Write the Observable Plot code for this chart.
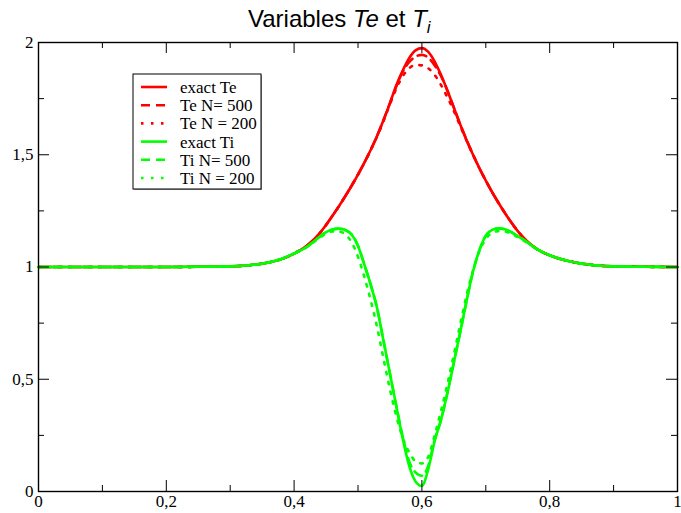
<!DOCTYPE html>
<html><head><meta charset="utf-8">
<script src="https://cdn.jsdelivr.net/npm/d3@7"></script>
<script src="https://cdn.jsdelivr.net/npm/@observablehq/plot@0.6"></script>
<style>body{margin:0;background:#fff} svg{display:block}</style>
</head><body><div id="chart"></div>
<script>
// x grid shared by every series
const xs = [0, 0.1, 0.2, 0.25, 0.3, 0.33, 0.36, 0.38, 0.40, 0.42, 0.44, 0.45, 0.46, 0.47, 0.48, 0.49, 0.50, 0.51, 0.52, 0.53, 0.54, 0.55, 0.56, 0.57, 0.58, 0.59, 0.60, 0.61, 0.62, 0.63, 0.64, 0.65, 0.66, 0.67, 0.68, 0.69, 0.70, 0.71, 0.72, 0.73, 0.74, 0.75, 0.76, 0.78, 0.80, 0.82, 0.84, 0.87, 0.90, 0.95, 1.0];

const teExact = [1, 1, 1, 1.001, 1.003, 1.008, 1.02, 1.035, 1.06, 1.095, 1.15, 1.187, 1.228, 1.27, 1.315, 1.362, 1.412, 1.465, 1.522, 1.585, 1.655, 1.73, 1.81, 1.875, 1.93, 1.965, 1.975, 1.958, 1.915, 1.855, 1.785, 1.71, 1.635, 1.565, 1.50, 1.44, 1.385, 1.333, 1.285, 1.24, 1.198, 1.16, 1.127, 1.08, 1.052, 1.033, 1.02, 1.008, 1.003, 1.001, 1];
const te500 = [1, 1, 1, 1.001, 1.003, 1.008, 1.02, 1.035, 1.06, 1.095, 1.15, 1.187, 1.228, 1.27, 1.315, 1.362, 1.412, 1.465, 1.522, 1.585, 1.655, 1.73, 1.805, 1.87, 1.912, 1.937, 1.945, 1.932, 1.898, 1.85, 1.785, 1.71, 1.635, 1.565, 1.50, 1.44, 1.385, 1.333, 1.285, 1.24, 1.198, 1.16, 1.127, 1.08, 1.052, 1.033, 1.02, 1.008, 1.003, 1.001, 1];
const te200 = [1, 1, 1, 1.001, 1.003, 1.008, 1.02, 1.035, 1.06, 1.095, 1.15, 1.187, 1.228, 1.27, 1.315, 1.362, 1.412, 1.465, 1.522, 1.582, 1.65, 1.725, 1.795, 1.85, 1.885, 1.90, 1.898, 1.885, 1.855, 1.81, 1.755, 1.695, 1.628, 1.562, 1.50, 1.44, 1.385, 1.333, 1.285, 1.24, 1.198, 1.16, 1.127, 1.08, 1.052, 1.033, 1.02, 1.008, 1.003, 1.001, 1];

const tiExact = [1, 1, 1, 1.001, 1.003, 1.008, 1.02, 1.036, 1.06, 1.09, 1.135, 1.155, 1.167, 1.171, 1.165, 1.145, 1.095, 1.01, 0.92, 0.815, 0.67, 0.525, 0.38, 0.235, 0.115, 0.045, 0.025, 0.10, 0.225, 0.32, 0.44, 0.575, 0.71, 0.85, 0.98, 1.075, 1.14, 1.165, 1.172, 1.168, 1.155, 1.137, 1.12, 1.08, 1.052, 1.033, 1.02, 1.008, 1.003, 1.001, 1];
const ti500 = [1, 1, 1, 1.001, 1.003, 1.008, 1.02, 1.036, 1.06, 1.09, 1.135, 1.155, 1.167, 1.171, 1.165, 1.145, 1.095, 1.01, 0.92, 0.815, 0.67, 0.525, 0.38, 0.245, 0.135, 0.085, 0.07, 0.115, 0.23, 0.32, 0.44, 0.575, 0.71, 0.85, 0.98, 1.075, 1.14, 1.165, 1.172, 1.168, 1.155, 1.137, 1.12, 1.08, 1.052, 1.033, 1.02, 1.008, 1.003, 1.001, 1];
const ti200 = [1, 1, 1, 1.001, 1.003, 1.008, 1.02, 1.036, 1.06, 1.09, 1.13, 1.148, 1.158, 1.158, 1.145, 1.11, 1.045, 0.955, 0.85, 0.73, 0.59, 0.455, 0.335, 0.24, 0.175, 0.135, 0.125, 0.155, 0.25, 0.36, 0.48, 0.61, 0.745, 0.875, 0.985, 1.07, 1.125, 1.152, 1.16, 1.158, 1.148, 1.133, 1.116, 1.08, 1.052, 1.033, 1.02, 1.008, 1.003, 1.001, 1];

const seriesNames = ["exact Te", "Te N= 500", "Te N = 200", "exact Ti", "Ti N= 500", "Ti N = 200"];
const seriesValues = [teExact, te500, te200, tiExact, ti500, ti200];
const seriesColors = ["#ff0000", "#ff0000", "#ff0000", "#00ff00", "#00ff00", "#00ff00"];
const seriesDash = [null, "9,6", "2.5,7.5", null, "9,6", "2.5,7.5"];

const xMajor = [0, 0.2, 0.4, 0.6, 0.8, 1];
const xMinor = [0.1, 0.3, 0.5, 0.7, 0.9];
const yMajor = [0, 0.5, 1, 1.5, 2];
const yMinor = [0.25, 0.75, 1.25, 1.75];
const fmt = d => String(d).replace(".", ",");

const W = 681, H = 513, mL = 38, mR = 4, mT = 42, mB = 22;
const pw = W - mL - mR, ph = H - mT - mB;
const majY = 11 / ph * 2, minY = 6 / ph * 2;   // tick lengths in y data units
const majX = 11 / pw, minX = 6 / pw;            // tick lengths in x data units

const lineMarks = seriesValues.map((vals, i) =>
  Plot.line(xs.map((x, j) => ({x, y: vals[j]})), {
    x: "x", y: "y", stroke: seriesColors[i], strokeWidth: 2.6,
    strokeDasharray: seriesDash[i], curve: "monotone-x"
  })
);

const tickStyle = {stroke: "black", strokeWidth: 1};
const plot = Plot.plot({
  width: W, height: H, marginLeft: mL, marginRight: mR, marginTop: mT, marginBottom: mB,
  style: {fontFamily: "'Liberation Serif', 'Times New Roman', serif", fontSize: "17px", background: "white", overflow: "visible"},
  x: {domain: [0, 1], label: null},
  y: {domain: [0, 2], label: null},
  marks: [
    ...lineMarks,
    Plot.ruleX(xMajor, {x: d => d, y1: 0, y2: majY, ...tickStyle}),
    Plot.ruleX(xMinor, {x: d => d, y1: 0, y2: minY, ...tickStyle}),
    Plot.ruleX(xMajor, {x: d => d, y1: 2 - majY, y2: 2, ...tickStyle}),
    Plot.ruleX(xMinor, {x: d => d, y1: 2 - minY, y2: 2, ...tickStyle}),
    Plot.ruleY(yMajor, {y: d => d, x1: 0, x2: majX, ...tickStyle}),
    Plot.ruleY(yMinor, {y: d => d, x1: 0, x2: minX, ...tickStyle}),
    Plot.ruleY(yMajor, {y: d => d, x1: 1 - majX, x2: 1, ...tickStyle}),
    Plot.ruleY(yMinor, {y: d => d, x1: 1 - minX, x2: 1, ...tickStyle}),
    Plot.frame({stroke: "black", strokeWidth: 1.4}),
    Plot.axisX(xMajor, {anchor: "bottom", tickSize: 0, tickPadding: 3, tickFormat: fmt, fontSize: 17, fill: "black", label: null}),
    Plot.axisY(yMajor, {anchor: "left", tickSize: 0, tickPadding: 5, tickFormat: fmt, fontSize: 17, fill: "black", label: null})
  ]
});

const svg = d3.select(plot);

// Title
const title = svg.append("text")
  .attr("x", 248).attr("y", 27).attr("text-anchor", "start")
  .attr("font-family", "'Liberation Sans', Arial, Helvetica, sans-serif")
  .attr("font-size", 24).attr("fill", "black");
title.append("tspan").text("Variables ");
title.append("tspan").attr("font-style", "italic").text("Te");
title.append("tspan").text(" et ");
title.append("tspan").attr("font-style", "italic").text("T");
title.append("tspan").attr("font-style", "italic").attr("font-size", 17).attr("dy", 6).text("i");

// Legend
const lg = svg.append("g");
const bx = 133, by = 74, bw = 128, bh = 115;
lg.append("rect").attr("x", bx + 1).attr("y", by + 1).attr("width", bw).attr("height", bh).attr("fill", "#999");
lg.append("rect").attr("x", bx).attr("y", by).attr("width", bw).attr("height", bh).attr("fill", "white").attr("stroke", "black").attr("stroke-width", 1);
seriesNames.forEach((name, i) => {
  const yy = 87 + i * 18.2;
  lg.append("line").attr("x1", 141).attr("x2", 167).attr("y1", yy).attr("y2", yy)
    .attr("stroke", seriesColors[i]).attr("stroke-width", 2.6)
    .attr("stroke-dasharray", seriesDash[i]);
  lg.append("text").attr("x", 180).attr("y", yy).attr("dy", "0.35em").attr("text-anchor", "start")
    .attr("font-family", "'Liberation Serif', 'Times New Roman', serif")
    .attr("font-size", 17).attr("fill", "black").text(name);
});

document.getElementById("chart").appendChild(plot);
</script>
</body></html>
